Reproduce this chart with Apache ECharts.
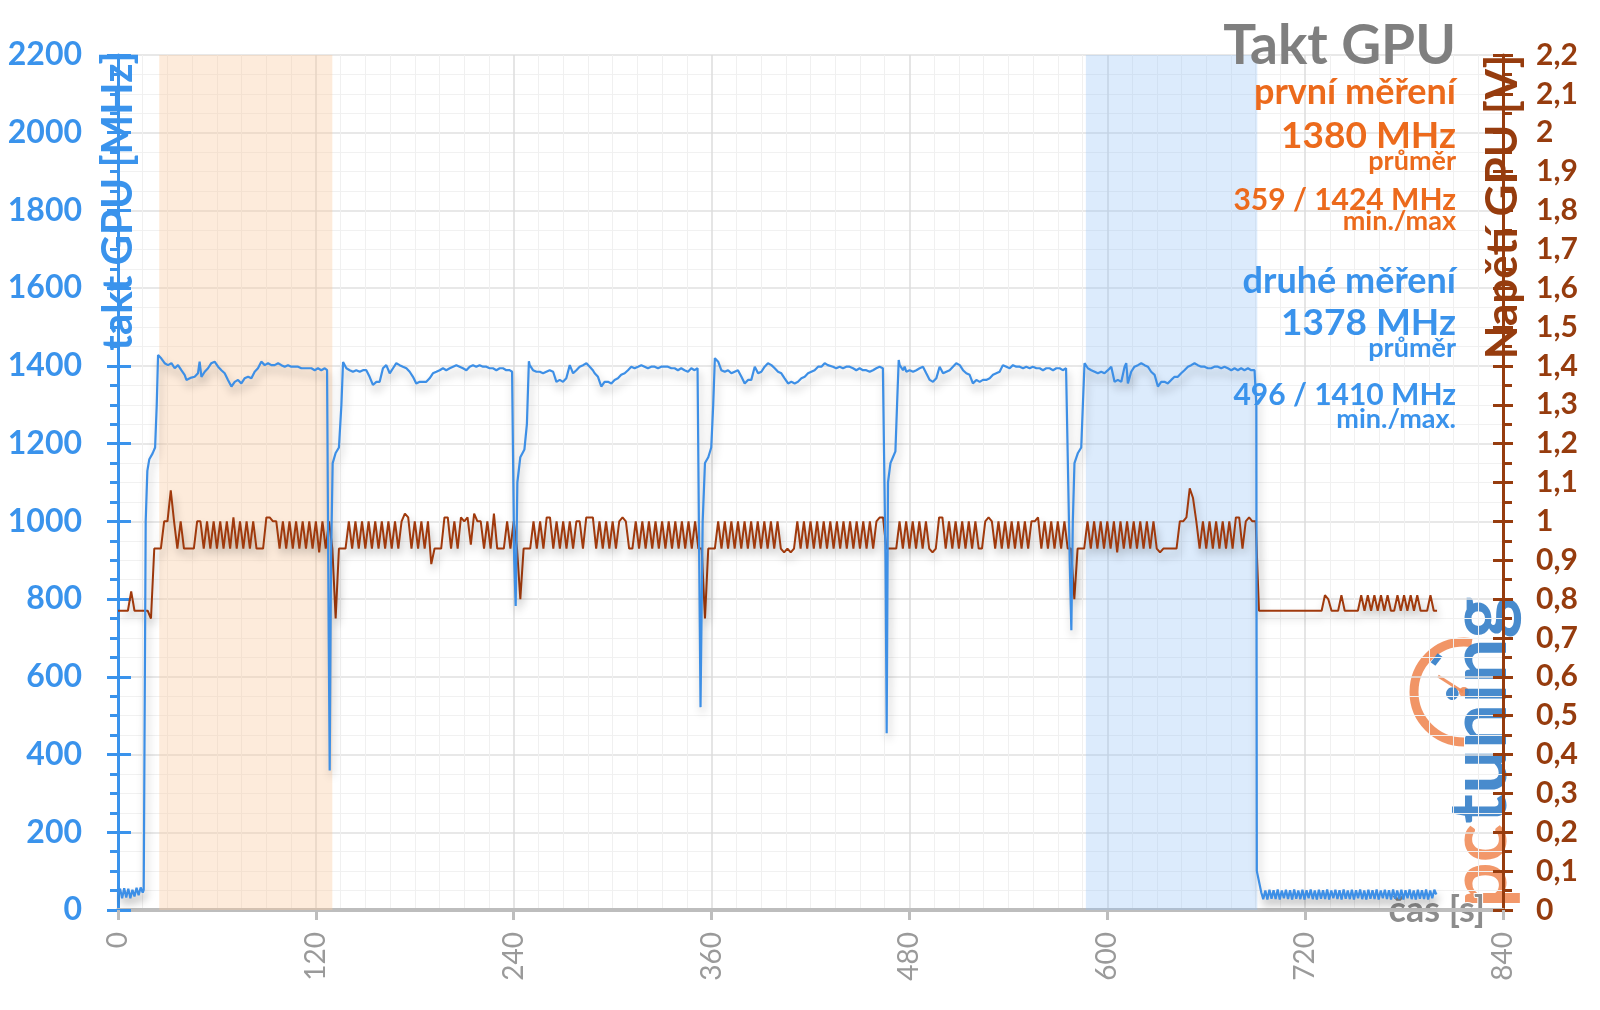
<!DOCTYPE html>
<html>
<head>
<meta charset="utf-8">
<script src="https://cdn.jsdelivr.net/npm/echarts@6/dist/echarts.min.js"></script>
<style>
html,body{margin:0;padding:0;background:#fff;}
#chart{width:1600px;height:1010px;}
</style>
</head>
<body>
<div id="chart"></div>
<script>
// ---------------- DATA ----------------
const xTickStep = 120;           // s
const clockRange = [0, 2200];    // MHz
const voltRange = [0, 2.2];      // V

const firstWindow = [25, 130];   // "první měření"
const secondWindow = [587, 691]; // "druhé měření"

// GPU clock [t (s), MHz]
const clockIdleStart = [[0,40],[1.25,55],[2.5,30],[3.75,56],[5,32],[6.25,55],[7.5,30],[8.75,52],[10,35],[11.25,57],[12.5,38],[13.75,58],[15,45],[15.6,52]];
const clockRun1 = [[16.8,1000],[17.8,1130],[19,1160],[21,1175],[22.5,1190],[23.5,1300],[24.3,1428],[26.3,1419],[28.3,1407],[30.3,1402],[32.4,1407],[34.4,1394],[36.4,1402],[38.4,1389],[40.4,1377],[41.5,1364],[42.5,1366],[44.5,1370],[46.5,1372],[48.5,1381],[49.5,1411],[50.6,1372],[52.6,1385],[54.6,1394],[56.6,1407],[58.6,1411],[60.7,1398],[62.7,1389],[64.7,1381],[66.7,1364],[68.8,1347],[70.8,1359],[72.8,1364],[74.8,1355],[76.8,1368],[78.9,1372],[80.9,1368],[82.9,1385],[84.9,1394],[86.9,1411],[89,1402],[91,1407],[93,1402],[95,1402],[97.1,1407],[99.1,1402],[101.1,1398],[103.1,1402],[105.1,1398],[107.2,1398],[109.2,1398],[111.2,1394],[113.2,1394],[115.3,1394],[117.3,1394],[119.3,1389],[121.3,1394],[123.3,1389],[125.4,1394],[126.8,1389]];
const clockRun2 = [[127.8,700],[128.4,359],[129.2,900],[130.2,1150],[132,1176],[134,1190],[135.5,1300],[136.5,1410],[138.5,1394],[140.5,1389],[142.5,1385],[144.5,1389],[146.6,1385],[148.6,1389],[150.6,1389],[152.6,1372],[154.6,1351],[156.7,1359],[158.7,1359],[160.7,1394],[162.7,1402],[164.8,1381],[166.8,1394],[168.8,1407],[170.8,1402],[172.8,1398],[174.9,1394],[176.9,1385],[178.9,1372],[180.9,1355],[183,1359],[185,1359],[187,1359],[189,1368],[191,1381],[193.1,1385],[195.1,1389],[197.1,1394],[199.1,1389],[201.2,1394],[203.2,1398],[205.2,1402],[207.2,1398],[209.2,1394],[211.3,1389],[213.3,1398],[215.3,1402],[217.3,1398],[219.3,1402],[221.4,1398],[223.4,1398],[225.4,1394],[227.4,1394],[229.5,1389],[231.5,1394],[233.5,1394],[235.5,1389],[237.5,1389],[239,1385]];
const clockRun3 = [[240.3,900],[241.2,782],[242.2,1100],[244,1165],[246.5,1185],[248,1250],[249.2,1412],[249.7,1402],[251.7,1389],[253.8,1385],[255.8,1385],[257.8,1381],[259.8,1385],[261.8,1389],[263.9,1385],[265.9,1359],[267.9,1364],[269.9,1359],[271.9,1368],[274,1402],[276,1381],[278,1389],[280,1398],[282.1,1402],[284.1,1407],[286.1,1398],[288,1389],[289.1,1381],[291.1,1372],[293.1,1347],[295.1,1359],[297.2,1359],[299.2,1355],[301.2,1364],[303.2,1368],[305.2,1377],[307.3,1381],[309.3,1389],[311.3,1398],[313.3,1394],[315.4,1398],[317.4,1402],[319.4,1398],[321.4,1394],[323.4,1398],[325.5,1398],[327.5,1394],[329.5,1398],[331.5,1398],[333.5,1398],[335.6,1394],[337.6,1394],[339.6,1389],[341.6,1394],[343.6,1389],[345.7,1385],[347.7,1394],[349.7,1389],[351.5,1394]];
const clockRun4 = [[352.5,900],[353.3,522],[354.6,1000],[356,1150],[358,1165],[359.8,1190],[361,1300],[362,1420],[363,1418],[364,1411],[365.9,1389],[368,1385],[370,1389],[372,1381],[374,1385],[376,1389],[378.1,1372],[380.1,1355],[382.1,1364],[384.1,1364],[386.2,1398],[388.2,1381],[390.2,1385],[392.2,1398],[394.2,1407],[396.3,1402],[398.3,1394],[400.3,1385],[402.3,1381],[404.3,1368],[406.4,1355],[408.4,1359],[410.4,1355],[412.4,1359],[414.5,1368],[416.5,1372],[418.5,1381],[420.5,1385],[422.5,1389],[424.6,1398],[426.6,1398],[428.6,1407],[430.5,1402],[431.6,1407],[433.6,1398],[435.6,1394],[437.7,1398],[439.7,1394],[441.7,1398],[443.7,1398],[445.8,1394],[447.8,1389],[449.8,1394],[451.8,1389],[453.8,1389],[455.9,1385],[457.9,1389],[459.9,1394],[461.9,1398],[463.9,1394],[464.8,1390]];
const clockRun5 = [[465.5,900],[466.2,455],[467,1100],[468.5,1150],[470,1165],[471.5,1180],[472.5,1300],[473.5,1415],[474.1,1402],[475.1,1407],[476.1,1389],[477.1,1398],[478.1,1385],[480.1,1389],[482.2,1385],[484.2,1389],[486.2,1394],[488.2,1398],[490.2,1381],[492.3,1364],[494.3,1359],[496.3,1368],[498.3,1398],[500.4,1381],[502.4,1385],[504.4,1389],[506.4,1398],[508.4,1407],[510.5,1402],[512.5,1389],[514.5,1381],[516.5,1377],[518.5,1355],[520.6,1364],[522.6,1359],[524.6,1364],[526.6,1364],[528.7,1368],[530.7,1377],[532.7,1381],[534.7,1385],[536.7,1402],[538.8,1398],[540.8,1394],[542.8,1402],[544.8,1398],[546.9,1398],[548.9,1394],[550.9,1398],[552.9,1394],[554.9,1398],[557,1394],[559,1394],[561,1389],[563,1394],[565,1394],[567.1,1389],[569.1,1394],[571.1,1394],[573,1389],[575,1394],[576.2,1389]];
const clockRun6 = [[577.2,900],[578.2,720],[579.1,1000],[580.1,1150],[582.2,1176],[584.2,1190],[585.2,1300],[586.2,1407],[587.2,1411],[588.2,1394],[590.3,1389],[592.3,1385],[594.3,1381],[596.3,1385],[598.3,1381],[600.4,1389],[602.4,1398],[604.4,1359],[606.4,1364],[608.5,1359],[610.5,1398],[611.5,1407],[612.5,1355],[614.5,1385],[616.5,1398],[618.6,1402],[620.6,1407],[622.6,1402],[624.6,1398],[626.6,1385],[628.7,1377],[630.7,1347],[632.7,1359],[634.7,1359],[636.7,1355],[638.8,1364],[640.8,1372],[642.8,1372],[644.8,1381],[646.8,1389],[648.9,1398],[650.9,1402],[652.9,1407],[654.9,1402],[657,1398],[659,1398],[661,1394],[663,1394],[665,1398],[667.1,1398],[669.1,1394],[671.1,1398],[673.1,1394],[675.2,1389],[677.2,1394],[679.2,1389],[681.2,1394],[683.2,1389],[685.3,1394],[687.3,1389],[689.3,1389],[690.4,1300],[690.7,100],[693.4,45]];
// idle after the test: sampled every idleEndStep seconds from idleEndStart
const idleEndStart = 694.6;
const idleEndStep = 1.25;
const clockIdleEnd = [28,50,27,52,29,51,28,53,27,50, 30,52,28,51,27,53,29,50,28,52, 27,51,30,53,28,50,27,52,29,51, 28,53,27,50,30,52,28,51,27,53, 29,50,28,52,27,51,30,53,28,50, 27,52,29,51,28,53,27,50,30,52, 28,51,27,53,29,50,28,52,27,51, 30,53,28,50,27,52,29,51,28,53, 27,50,30,52,40];

// GPU voltage [V], one reading every voltStep seconds from t = 0
const voltStep = 2;
const voltA = [0.77,0.77,0.77,0.77,0.82,0.77,0.77,0.77,0.77,0.77, 0.75,0.93,0.93,0.93,1.0,1.0,1.08,1.0,0.93,1.0, 0.93,0.93,0.93,0.93,1.0,1.0,0.93,1.0,0.93,1.0, 0.93,1.0,0.93,1.0,0.93,1.01,0.93,1.0,0.93,1.0, 0.93,1.0,0.93,0.93,0.93,1.01,1.01,1.0,1.0,0.93, 1.0,0.93,1.0,0.93,1.0,0.93,1.0,0.93,1.0,0.93, 1.0,0.92,1.0,0.93,1.0,0.93,0.75,0.93,0.93,0.93, 1.0,0.93,1.0,0.93,1.0,0.93,1.0,0.93,1.0,0.93, 1.0,0.93,1.0,0.93,1.0,0.93,1.0,1.02,1.01,0.93, 1.0,0.93,1.0,0.93,1.0,0.89,0.93,0.93,0.93,1.01];
const voltB = [1.01,0.93,1.0,0.93,1.01,1.0,1.01,0.94,1.02,1.0, 1.0,0.93,1.0,0.93,1.02,0.93,0.93,0.93,1.0,0.93, 1.0,0.93,0.80,0.93,0.93,0.93,1.0,0.93,1.0,0.93, 1.01,1.01,0.93,1.0,0.93,1.0,0.93,1.0,0.93,1.0, 1.0,0.93,1.01,1.01,1.01,0.93,1.0,0.93,1.0,0.93, 1.0,0.93,1.0,1.01,1.0,0.93,0.93,1.0,0.93,1.0, 0.93,1.0,0.93,1.0,0.93,1.0,0.93,1.0,0.93,1.0, 0.93,1.0,0.93,1.0,0.93,1.0,0.93,0.93,0.75,0.93, 0.93,0.93,1.0,0.93,1.0,0.93,1.0,0.93,1.0,0.93, 1.0,0.93,1.0,0.93,1.0,0.93,1.0,0.93,1.0,0.93];
const voltC = [1.0,0.93,0.92,0.93,0.92,0.93,1.0,0.93,1.0,0.93, 1.0,0.93,1.0,0.93,1.0,0.93,1.0,0.93,1.0,0.93, 1.0,0.93,1.0,0.93,1.0,0.93,1.0,0.93,1.0,0.93, 1.0,1.01,1.01,0.93,0.93,0.93,0.93,1.0,0.93,1.0, 0.93,1.0,0.93,1.0,0.93,1.0,0.93,0.92,0.93,1.01, 1.01,0.93,1.0,0.93,1.0,0.93,1.0,0.93,1.0,0.93, 1.0,0.93,0.93,1.0,1.01,1.0,0.93,1.0,0.93,1.0, 0.93,1.0,0.93,1.0,0.93,1.0,0.93,1.0,1.0,1.01, 0.93,1.0,0.93,1.0,0.93,1.0,0.93,1.0,0.93,0.93, 0.80,0.93,0.93,0.93,1.0,0.93,1.0,0.93,1.0,0.93];
const voltD = [1.0,0.93,1.0,0.92,1.0,0.93,1.0,0.93,1.0,0.93, 1.0,0.93,1.0,0.93,1.0,0.93,0.92,0.93,0.93,0.93, 0.93,0.93,1.0,1.0,1.01,1.085,1.06,1.0,0.93,1.0, 0.93,1.0,0.93,1.0,0.93,1.0,0.93,1.0,0.93,1.01, 1.01,0.93,1.0,1.01,1.0,1.0,0.77,0.77,0.77,0.77, 0.77,0.77,0.77,0.77,0.77,0.77,0.77,0.77,0.77,0.77, 0.77,0.77,0.77,0.77,0.77,0.77,0.81,0.80,0.77,0.77, 0.77,0.81,0.77,0.77,0.77,0.77,0.77,0.81,0.77,0.81, 0.77,0.81,0.77,0.81,0.77,0.81,0.77,0.77,0.81,0.77, 0.81,0.77,0.81,0.77,0.81,0.77,0.77,0.77,0.81,0.77, 0.77];

// texts
const titleText = 'Takt GPU';
const firstLabel = ['první měření', '1380 MHz', 'průměr', '359 / 1424 MHz', 'min./max'];
const secondLabel = ['druhé měření', '1378 MHz', 'průměr', '496 / 1410 MHz', 'min./max.'];

// ---------------- BUILD ----------------
const clockData = [].concat(clockIdleStart, clockRun1, clockRun2, clockRun3, clockRun4, clockRun5, clockRun6,
  clockIdleEnd.map((v, i) => [idleEndStart + i * idleEndStep, v]));
const voltData = [].concat(voltA, voltB, voltC, voltD).map((v, i) => [i * voltStep, v]);

const FONT = 'Lato, "Open Sans", "DejaVu Sans", sans-serif';
const BLUE = '#3A93EC';
const BLUE_LINE = '#3D8FE6';
const ORANGE = '#EC6A1C';
const BROWN = '#963C0E';
const BROWN_LINE = '#A0390C';
const GRAY_TITLE = '#7F7F7F';

const lineShadow = { shadowColor: 'rgba(0,0,0,0.28)', shadowBlur: 8, shadowOffsetX: 2, shadowOffsetY: 6 };

function txt(text, x, y, size, color) {
  return {
    type: 'text', x: x, y: y, z: 100,
    style: {
      text: text, fill: color,
      font: 'bold ' + size + 'px ' + FONT,
      align: 'right', textAlign: 'right',
      verticalAlign: 'middle', textVerticalAlign: 'middle',
      shadowColor: '#ffffff', shadowBlur: 6
    }
  };
}

const chart = echarts.init(document.getElementById('chart'), null, { renderer: 'canvas' });
const option = {
  animation: false,
  backgroundColor: '#ffffff',
  grid: { left: 118, right: 97, top: 55, bottom: 100, containLabel: false, outerBoundsMode: 'none' },
  xAxis: {
    type: 'value', min: 0, max: 840, interval: xTickStep,
    name: 'čas [s]', nameLocation: 'end', nameGap: -18, nameMoveOverlap: false,
    nameTextStyle: { color: '#8C8C8C', fontSize: 36, fontWeight: 'bold', fontFamily: FONT, align: 'right', verticalAlign: 'middle',
      textBorderColor: '#fff', textBorderWidth: 2 },
    axisLine: { show: true, onZero: false, lineStyle: { color: '#BDBDBD', width: 4 } },
    axisTick: { show: true, length: 10, lineStyle: { color: '#BDBDBD', width: 3 } },
    axisLabel: { rotate: 90, color: '#9A9A9A', fontSize: 28, fontFamily: FONT, margin: 22 },
    splitLine: { show: true, lineStyle: { color: '#DCDCDC', width: 1.5 } },
    minorTick: { show: false, splitNumber: 8 },
    minorSplitLine: { show: true, lineStyle: { color: '#F0F0F0', width: 1 } }
  },
  yAxis: [
    {
      type: 'value', position: 'left', min: clockRange[0], max: clockRange[1], interval: 200,
      name: 'takt GPU [MHz]', nameLocation: 'end', nameRotate: 90, nameGap: -146, nameMoveOverlap: false,
      nameTextStyle: { color: BLUE, fontSize: 42, fontWeight: 'bold', fontFamily: FONT, align: 'center', verticalAlign: 'middle' },
      axisLine: { show: true, lineStyle: { color: BLUE, width: 3 } },
      axisTick: { show: true, length: 11, lineStyle: { color: BLUE, width: 3 } },
      minorTick: { show: true, splitNumber: 4, length: 8, lineStyle: { color: BLUE, width: 3 } },
      axisLabel: { color: BLUE, fontSize: 32, fontWeight: 'bold', fontFamily: FONT, margin: 36,
        formatter: v => String(v) },
      splitLine: { show: true, lineStyle: { color: '#E0E0E0', width: 1.5 } },
      minorSplitLine: { show: true, lineStyle: { color: '#F1F1F1', width: 1 } }
    },
    {
      type: 'value', position: 'right', min: voltRange[0], max: voltRange[1], interval: 0.1,
      name: 'Napětí GPU [V]', nameLocation: 'end', nameRotate: 90, nameGap: -152, nameMoveOverlap: false,
      nameTextStyle: { color: BROWN, fontSize: 44, fontWeight: 'bold', fontFamily: FONT, align: 'center', verticalAlign: 'middle' },
      axisLine: { show: true, lineStyle: { color: BROWN, width: 3 } },
      axisTick: { show: true, length: 10, lineStyle: { color: BROWN, width: 3 } },
      minorTick: { show: true, splitNumber: 2, length: 9, lineStyle: { color: BROWN, width: 3 } },
      axisLabel: { color: BROWN, fontSize: 30, fontWeight: 'bold', fontFamily: FONT, margin: 33,
        formatter: v => String(Math.round(v * 10) / 10).replace('.', ',') },
      splitLine: { show: false }
    },
    {
      type: 'value', position: 'left', min: clockRange[0], max: clockRange[1], interval: 200,
      axisLine: { show: false },
      axisTick: { show: true, inside: true, length: 13, lineStyle: { color: BLUE, width: 3 } },
      axisLabel: { show: false }, splitLine: { show: false }
    },
    {
      type: 'value', position: 'right', min: voltRange[0], max: voltRange[1], interval: 0.1,
      axisLine: { show: false },
      axisTick: { show: true, inside: true, length: 10, lineStyle: { color: BROWN, width: 3 } },
      axisLabel: { show: false }, splitLine: { show: false }
    }
  ],
  series: [
    {
      name: 'měřená okna', type: 'line', yAxisIndex: 0, data: [], z: 1, silent: true,
      markArea: {
        silent: true,
        data: [
          [{ xAxis: firstWindow[0], itemStyle: { color: 'rgba(249,200,154,0.36)' } }, { xAxis: firstWindow[1] }],
          [{ xAxis: secondWindow[0], itemStyle: { color: 'rgba(145,192,245,0.32)' } }, { xAxis: secondWindow[1] }]
        ]
      }
    },
    {
      name: 'Napětí GPU', type: 'line', yAxisIndex: 1, data: voltData, symbol: 'none', z: 3,
      lineStyle: Object.assign({ color: BROWN_LINE, width: 2 }, lineShadow)
    },
    {
      name: 'Takt GPU', type: 'line', yAxisIndex: 0, data: clockData, symbol: 'none', z: 4,
      lineStyle: Object.assign({ color: BLUE_LINE, width: 2.2 }, lineShadow)
    }
  ],
  graphic: [
    txt(titleText, 1456, 46, 55, GRAY_TITLE),
    txt(firstLabel[0], 1456, 92, 36, ORANGE),
    txt(firstLabel[1], 1456, 136, 37, ORANGE),
    txt(firstLabel[2], 1456, 161, 27, ORANGE),
    txt(firstLabel[3], 1456, 200, 30, ORANGE),
    txt(firstLabel[4], 1456, 221, 27, ORANGE),
    txt(secondLabel[0], 1456, 281, 36, BLUE),
    txt(secondLabel[1], 1456, 323, 37, BLUE),
    txt(secondLabel[2], 1456, 348, 27, BLUE),
    txt(secondLabel[3], 1456, 395, 30, BLUE),
    txt(secondLabel[4], 1456, 419, 27, BLUE),
    {
      type: 'group', z: 60, silent: true,
      children: [
        { type: 'arc', shape: { cx: 1464, cy: 692, r: 50, startAngle: Math.PI / 2, endAngle: Math.PI * 1.55 },
          style: { stroke: '#F08A55', lineWidth: 9, fill: null, opacity: 0.9 } },
        { type: 'line', shape: { x1: 1438, y1: 676, x2: 1463, y2: 692 }, style: { stroke: '#F08A55', lineWidth: 3, opacity: 0.9 } },
        { type: 'circle', shape: { cx: 1464, cy: 692, r: 5 }, style: { fill: '#F08A55', opacity: 0.9 } },
        { type: 'line', shape: { x1: 1433, y1: 664, x2: 1440, y2: 655 }, style: { stroke: '#2F7BC6', lineWidth: 6, opacity: 0.9 } },
        { type: 'text', x: 1480, y: 752, rotation: Math.PI / 2,
          style: { text: '{a|pc}{b|tuning}', align: 'center', verticalAlign: 'middle', textAlign: 'center', textVerticalAlign: 'middle',
            opacity: 0.88,
            rich: {
              a: { fill: '#F08A55', fontSize: 80, fontWeight: 'bold', fontFamily: FONT },
              b: { fill: '#2F7BC6', fontSize: 80, fontWeight: 'bold', fontFamily: FONT }
            } } }
      ]
    }
  ]
};
chart.setOption(option);
</script>
</body>
</html>
